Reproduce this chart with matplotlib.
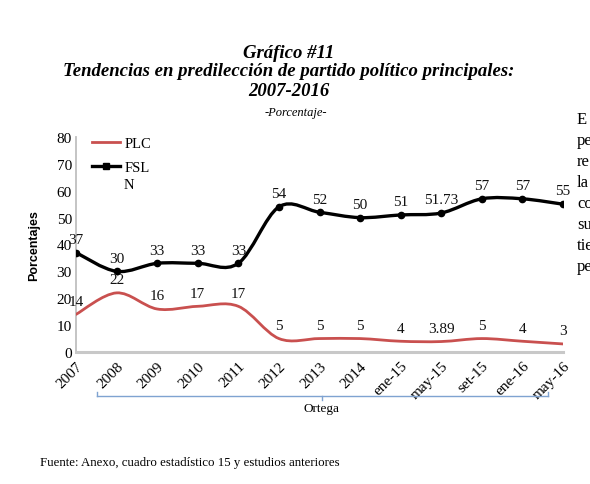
import matplotlib
matplotlib.use('Agg')
import matplotlib.pyplot as plt
import numpy as np
from matplotlib.path import Path
from matplotlib.patches import PathPatch
from matplotlib.lines import Line2D

# data
periodos = ['2007', '2008', '2009', '2010', '2011', '2012', '2013', '2014',
            'ene-15', 'may-15', 'set-15', 'ene-16', 'may-16']
plc = [14, 22, 16, 17, 17, 5, 5, 5, 4, 3.89, 5, 4, 3]
fsln = [37, 30, 33, 33, 33, 54, 52, 50, 51, 51.73, 57, 57, 55]
plc_labels = ['14', '22', '16', '17', '17', '5', '5', '5', '4', '3.89', '5', '4', '3']
fsln_labels = ['37', '30', '33', '33', '33', '54', '52', '50', '51', '51.73', '57', '57', '55']

serif = 'Liberation Serif'
sans = 'Liberation Sans'
rojo = '#c9504f'


def smooth_path(x, y):
    # excel-like smoothed line: cubic bezier segments through every point
    pts = np.column_stack([x, y]).astype(float)
    n = len(pts)
    verts = [pts[0]]
    codes = [Path.MOVETO]
    for i in range(n - 1):
        p0 = pts[i - 1] if i > 0 else pts[i]
        p1 = pts[i]
        p2 = pts[i + 1]
        p3 = pts[i + 2] if i + 2 < n else pts[i + 1]
        c1 = p1 + (p2 - p0) / 6.0
        c2 = p2 - (p3 - p1) / 6.0
        verts += [c1, c2, p2]
        codes += [Path.CURVE4] * 3
    return Path(verts, codes)


fig = plt.figure(figsize=(5.9, 4.85), dpi=100)
ax = fig.add_axes([76 / 590, 1 - 353 / 485, (563 - 76) / 590, (353 - 138) / 485])

xs = np.arange(len(periodos))

ax.add_patch(PathPatch(smooth_path(xs, plc), fill=False, edgecolor=rojo, lw=2.0,
                       capstyle='round', zorder=3))
ax.add_patch(PathPatch(smooth_path(xs, fsln), fill=False, edgecolor='black', lw=2.4,
                       capstyle='round', zorder=4))
ax.plot(xs, fsln, ls='none', marker='o', ms=4.5, color='black', zorder=5)

for i in range(len(xs)):
    ax.annotate(fsln_labels[i], (xs[i], fsln[i]), xytext=(0, 9.5), textcoords='offset points',
                ha='center', va='center', fontsize=11, family=serif, color='#111111')
    ax.annotate(plc_labels[i], (xs[i], plc[i]), xytext=(0, 9.5), textcoords='offset points',
                ha='center', va='center', fontsize=11, family=serif, color='#111111')

ax.set_xlim(0, len(periodos) - 1)
ax.set_ylim(0, 80)
ax.set_yticks(range(0, 81, 10))
ax.set_xticks(xs)
ax.set_xticklabels(periodos, rotation=45, ha='right', rotation_mode='anchor',
                   family=serif, fontsize=11)
for t in ax.get_yticklabels():
    t.set_family(serif)
    t.set_fontsize(11)
ax.tick_params(length=0, pad=3)
ax.tick_params(axis='x', pad=5)

for s in ['top', 'right']:
    ax.spines[s].set_visible(False)
ax.spines['left'].set_color('#bfbfbf')
ax.spines['left'].set_linewidth(1.3)
ax.spines['bottom'].set_color('#c8c8c8')
ax.spines['bottom'].set_linewidth(2.2)
ax.patch.set_alpha(0)

ax.set_ylabel('Porcentajes', family=sans, fontweight='bold', fontsize=9, labelpad=12)

handles = [Line2D([], [], color=rojo, lw=2.0),
           Line2D([], [], color='black', lw=2.4, marker='s', ms=5)]
leg = ax.legend(handles, ['PLC', 'FSL'], loc='upper left', bbox_to_anchor=(0.033, 1.0),
                frameon=False, handlelength=1.9, handletextpad=0.35, labelspacing=0.7,
                borderpad=0, borderaxespad=0, prop={'family': serif, 'size': 10.5})
fig.text(124 / 590, 1 - 186 / 485, 'N', ha='left', va='center', family=serif, fontsize=10.5)

# bracket under the categories ("Ortega")
azul = '#7fa3d1'
by = 1 - 397 / 485
fig.add_artist(Line2D([97 / 590, 548 / 590], [by, by], color=azul, lw=1))
fig.add_artist(Line2D([97 / 590, 97 / 590], [by, by + 4 / 485], color=azul, lw=1))
fig.add_artist(Line2D([548 / 590, 548 / 590], [by, by + 4 / 485], color=azul, lw=1))
fig.add_artist(Line2D([322 / 590, 322 / 590], [by, by - 4 / 485], color=azul, lw=1))
fig.text(322 / 590, 1 - 409 / 485, 'Ortega', ha='center', va='center', family=serif, fontsize=9.5)

# titles
cx = 289 / 590
fig.text(cx, 1 - 53 / 485, 'Gráfico #11', ha='center', va='center', family=serif,
         fontsize=13.5, fontweight='bold', style='italic')
fig.text(cx, 1 - 72 / 485, 'Tendencias en predilección de partido político principales:',
         ha='center', va='center', family=serif, fontsize=13.5, fontweight='bold', style='italic')
fig.text(cx, 1 - 91 / 485, '2007-2016', ha='center', va='center', family=serif,
         fontsize=13.5, fontweight='bold', style='italic')
fig.text(296 / 590, 1 - 113 / 485, '-Porcentaje-', ha='center', va='center', family=serif,
         fontsize=9, style='italic')

fig.text(40 / 590, 1 - 463 / 485, 'Fuente: Anexo, cuadro estadístico 15 y estudios anteriores',
         ha='left', va='center', family=serif, fontsize=9.3)

# text of the page cut off at the right edge
pedazos = ['E', 'pe', 're', 'la', 'co', 'su', 'tie', 'pe']
for k, s in enumerate(pedazos):
    fig.text(577 / 590, 1 - (120 + 21 * k) / 485, s, ha='left', va='center',
             family=serif, fontsize=12)

fig.savefig('out.png', dpi=100)
